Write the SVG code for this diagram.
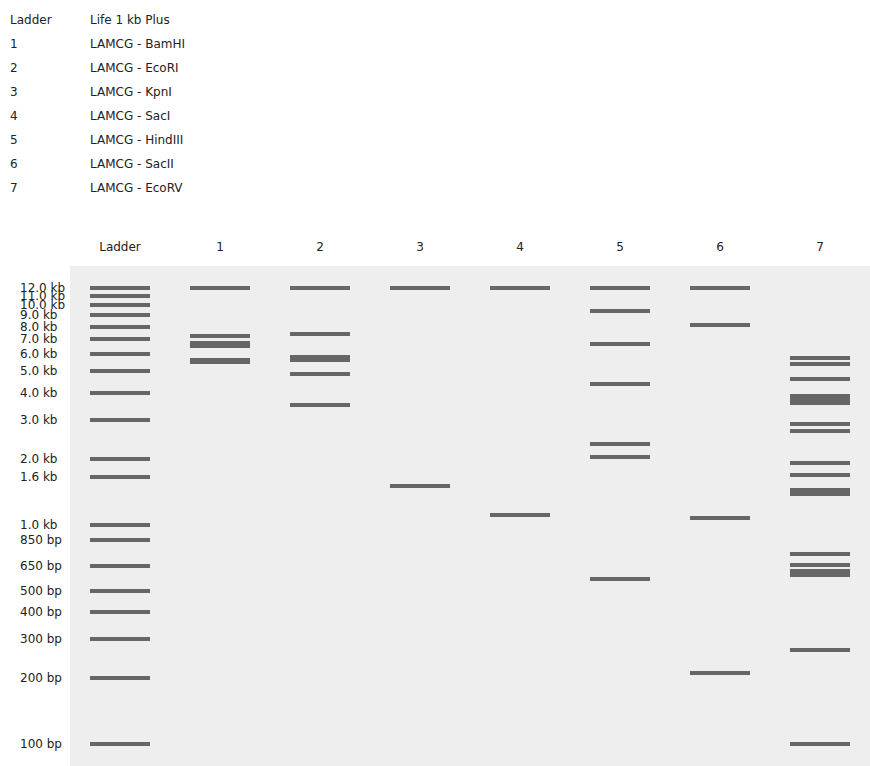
<svg xmlns="http://www.w3.org/2000/svg" width="870" height="766" viewBox="0 0 870 766">
<style>
text{font-family:"DejaVu Sans","Liberation Sans",sans-serif;font-size:12px;fill:#222}
.h{text-anchor:middle}
.gel{fill:#eeeeee}
.b{fill:#666666}
</style>
<rect width="870" height="766" fill="#ffffff"/>
<g id="legend">
<text x="10" y="24">Ladder</text><text x="90" y="24">Life 1 kb Plus</text>
<text x="10" y="48">1</text><text x="90" y="48">LAMCG - BamHI</text>
<text x="10" y="72">2</text><text x="90" y="72">LAMCG - EcoRI</text>
<text x="10" y="96">3</text><text x="90" y="96">LAMCG - KpnI</text>
<text x="10" y="120">4</text><text x="90" y="120">LAMCG - SacI</text>
<text x="10" y="144">5</text><text x="90" y="144">LAMCG - HindIII</text>
<text x="10" y="168">6</text><text x="90" y="168">LAMCG - SacII</text>
<text x="10" y="192">7</text><text x="90" y="192">LAMCG - EcoRV</text>
</g>
<g id="headers">
<text class="h" x="120" y="251">Ladder</text>
<text class="h" x="220" y="251">1</text>
<text class="h" x="320" y="251">2</text>
<text class="h" x="420" y="251">3</text>
<text class="h" x="520" y="251">4</text>
<text class="h" x="620" y="251">5</text>
<text class="h" x="720" y="251">6</text>
<text class="h" x="820" y="251">7</text>
</g>
<rect id="gel" class="gel" x="70" y="266" width="800" height="500"/>
<g id="sizes">
<text x="20" y="292">12.0 kb</text>
<text x="20" y="300">11.0 kb</text>
<text x="20" y="309">10.0 kb</text>
<text x="20" y="319">9.0 kb</text>
<text x="20" y="331">8.0 kb</text>
<text x="20" y="343">7.0 kb</text>
<text x="20" y="358">6.0 kb</text>
<text x="20" y="375">5.0 kb</text>
<text x="20" y="397">4.0 kb</text>
<text x="20" y="424">3.0 kb</text>
<text x="20" y="463">2.0 kb</text>
<text x="20" y="481">1.6 kb</text>
<text x="20" y="529">1.0 kb</text>
<text x="20" y="544">850 bp</text>
<text x="20" y="570">650 bp</text>
<text x="20" y="595">500 bp</text>
<text x="20" y="616">400 bp</text>
<text x="20" y="643">300 bp</text>
<text x="20" y="682">200 bp</text>
<text x="20" y="748">100 bp</text>
</g>
<g id="lane-ladder" class="b">
<rect x="90" y="286" width="60" height="4"/>
<rect x="90" y="294" width="60" height="4"/>
<rect x="90" y="303" width="60" height="4"/>
<rect x="90" y="313" width="60" height="4"/>
<rect x="90" y="325" width="60" height="4"/>
<rect x="90" y="337" width="60" height="4"/>
<rect x="90" y="352" width="60" height="4"/>
<rect x="90" y="369" width="60" height="4"/>
<rect x="90" y="391" width="60" height="4"/>
<rect x="90" y="418" width="60" height="4"/>
<rect x="90" y="457" width="60" height="4"/>
<rect x="90" y="475" width="60" height="4"/>
<rect x="90" y="523" width="60" height="4"/>
<rect x="90" y="538" width="60" height="4"/>
<rect x="90" y="564" width="60" height="4"/>
<rect x="90" y="589" width="60" height="4"/>
<rect x="90" y="610" width="60" height="4"/>
<rect x="90" y="637" width="60" height="4"/>
<rect x="90" y="676" width="60" height="4"/>
<rect x="90" y="742" width="60" height="4"/>
</g>
<g id="lane-1" class="b">
<rect x="190" y="286" width="60" height="4"/>
<rect x="190" y="334" width="60" height="4"/>
<rect x="190" y="341" width="60" height="7"/>
<rect x="190" y="358" width="60" height="6"/>
</g>
<g id="lane-2" class="b">
<rect x="290" y="286" width="60" height="4"/>
<rect x="290" y="332" width="60" height="4"/>
<rect x="290" y="355" width="60" height="7"/>
<rect x="290" y="372" width="60" height="4"/>
<rect x="290" y="403" width="60" height="4"/>
</g>
<g id="lane-3" class="b">
<rect x="390" y="286" width="60" height="4"/>
<rect x="390" y="484" width="60" height="4"/>
</g>
<g id="lane-4" class="b">
<rect x="490" y="286" width="60" height="4"/>
<rect x="490" y="513" width="60" height="4"/>
</g>
<g id="lane-5" class="b">
<rect x="590" y="286" width="60" height="4"/>
<rect x="590" y="309" width="60" height="4"/>
<rect x="590" y="342" width="60" height="4"/>
<rect x="590" y="382" width="60" height="4"/>
<rect x="590" y="442" width="60" height="4"/>
<rect x="590" y="455" width="60" height="4"/>
<rect x="590" y="577" width="60" height="4"/>
</g>
<g id="lane-6" class="b">
<rect x="690" y="286" width="60" height="4"/>
<rect x="690" y="323" width="60" height="4"/>
<rect x="690" y="516" width="60" height="4"/>
<rect x="690" y="671" width="60" height="4"/>
</g>
<g id="lane-7" class="b">
<rect x="790" y="356" width="60" height="4"/>
<rect x="790" y="362" width="60" height="4"/>
<rect x="790" y="377" width="60" height="4"/>
<rect x="790" y="394" width="60" height="11"/>
<rect x="790" y="422" width="60" height="4"/>
<rect x="790" y="429" width="60" height="4"/>
<rect x="790" y="461" width="60" height="4"/>
<rect x="790" y="473" width="60" height="4"/>
<rect x="790" y="488" width="60" height="8"/>
<rect x="790" y="552" width="60" height="4"/>
<rect x="790" y="563" width="60" height="4"/>
<rect x="790" y="569" width="60" height="8"/>
<rect x="790" y="648" width="60" height="4"/>
<rect x="790" y="742" width="60" height="4"/>
</g>
</svg>
